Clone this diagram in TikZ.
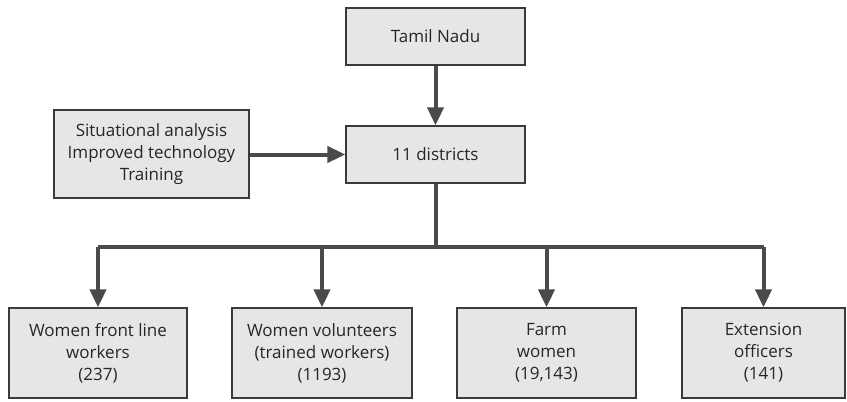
\documentclass[tikz,border=0pt]{standalone}
\usepackage{fontspec}
\setmainfont{Open Sans}
\usetikzlibrary{arrows.meta}
\definecolor{boxfill}{HTML}{E6E6E6}
\definecolor{boxline}{HTML}{3A3A3A}
\definecolor{arrowgray}{HTML}{4A4A4A}
\tikzset{
  box/.style={draw=boxline, line width=1.3pt, fill=boxfill, align=center,
    font=\fontsize{17}{22}\selectfont, text=black!85, inner sep=0pt},
  flow/.style={draw=arrowgray, line width=4pt,
    -{Triangle[length=18pt,width=16pt]}},
  trunk/.style={draw=arrowgray, line width=4pt}
}
\begin{document}
\begin{tikzpicture}[x=1pt,y=-1pt]
\useasboundingbox (0,0) rectangle (847,402);
% top chain
\node[box, minimum width=179pt, minimum height=57pt] (tn) at (435.5,36.5) {Tamil Nadu};
\node[box, minimum width=179pt, minimum height=57pt] (dist) at (435.5,154.5) {11 districts};
\node[box, minimum width=195pt, minimum height=88pt] (inp) at (151.5,154) {Situational analysis\\Improved technology\\Training};
\draw[flow] (inp.east |- dist.west) -- (dist.west);
\draw[flow] (tn) -- (dist);
% branch to target groups
\node[box, minimum width=178pt, minimum height=90pt] (g1) at (98,353) {Women front line\\workers\\(237)};
\node[box, minimum width=180pt, minimum height=90pt] (g2) at (322,353) {Women volunteers\\(trained workers)\\(1193)};
\node[box, minimum width=179pt, minimum height=90pt] (g3) at (546.5,353) {Farm\\women\\(19,143)};
\node[box, minimum width=163pt, minimum height=90pt] (g4) at (763.5,353) {Extension\\officers\\(141)};
\coordinate (split) at (435.5,247);
\draw[trunk] (dist.south) -- (split);
\draw[trunk] (g1.north |- split) -- (g4.north |- split);
\foreach \g in {g1,g2,g3,g4}
  \draw[flow] (\g.north |- split) -- (\g.north);
\end{tikzpicture}
\end{document}
